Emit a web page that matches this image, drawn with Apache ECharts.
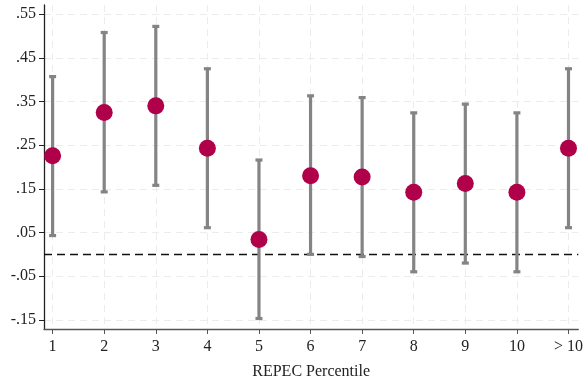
<!DOCTYPE html>
<html>
<head>
<meta charset="utf-8">
<script src="https://cdn.jsdelivr.net/npm/echarts@6/dist/echarts.min.js"></script>
<style>
  html, body { margin: 0; padding: 0; background: #fff; }
  #chart { width: 586px; height: 385px; }
</style>
</head>
<body>
<div id="chart"></div>
<script>
// Percentile bins on the horizontal axis
const categories = ['1', '2', '3', '4', '5', '6', '7', '8', '9', '10', '> 10'];
const positions = [1, 2, 3, 4, 5, 6, 7, 8, 9, 10, 11];
// Point estimates and confidence bounds per bin
const estimates = [0.226, 0.325, 0.340, 0.243, 0.034, 0.180, 0.177, 0.142, 0.162, 0.142, 0.243];
const upperCI  = [0.407, 0.508, 0.522, 0.425, 0.216, 0.363, 0.359, 0.324, 0.344, 0.324, 0.425];
const lowerCI  = [0.043, 0.143, 0.158, 0.061, -0.147, 0.000, -0.005, -0.040, -0.020, -0.040, 0.061];
// Vertical axis ticks and their labels
const yTicks = [-0.15, -0.05, 0.05, 0.15, 0.25, 0.35, 0.45, 0.55];
const yTickLabels = ['-.15', '-.05', '.05', '.15', '.25', '.35', '.45', '.55'];

const FONT = '"Liberation Serif", "DejaVu Serif", serif';

const chart = echarts.init(document.getElementById('chart'), null, { renderer: 'canvas' });

const ciData = positions.map((p, i) => [p, lowerCI[i], upperCI[i]]);
const pointData = positions.map((p, i) => [p, estimates[i]]);

chart.setOption({
  animation: false,
  backgroundColor: '#ffffff',
  grid: { left: 44, right: 7, top: 5, bottom: 56, containLabel: false },
  xAxis: {
    type: 'value',
    min: 0.833,
    max: 11.19,
    name: 'REPEC Percentile',
    nameLocation: 'middle',
    nameGap: 35,
    nameTextStyle: { fontFamily: FONT, fontSize: 16, color: '#222' },
    axisLine: { show: true, onZero: false, lineStyle: { color: '#555', width: 1.3 } },
    axisTick: { show: true, length: 5, customValues: positions, lineStyle: { color: '#555' } },
    axisLabel: {
      customValues: positions,
      fontFamily: FONT, fontSize: 16, color: '#222', margin: 10,
      formatter: v => categories[positions.indexOf(Math.round(v))] || ''
    },
    splitLine: { show: true, lineStyle: { color: '#ececec', type: [7, 5], width: 1 } }
  },
  yAxis: {
    type: 'value',
    min: -0.171,
    max: 0.571,
    axisLine: { show: true, onZero: false, lineStyle: { color: '#222', width: 1.3 } },
    axisTick: { show: true, length: 5, customValues: yTicks, lineStyle: { color: '#222' } },
    axisLabel: {
      customValues: yTicks,
      fontFamily: FONT, fontSize: 16, color: '#222', margin: 8,
      formatter: v => {
        const idx = yTicks.findIndex(t => Math.abs(t - v) < 1e-6);
        return idx >= 0 ? yTickLabels[idx] : '';
      }
    },
    splitLine: { show: true, lineStyle: { color: '#ececec', type: [7, 5], width: 1 } }
  },
  series: [
    {
      type: 'custom',
      name: 'CI',
      data: ciData,
      z: 3,
      renderItem: (params, api) => {
        const x = api.value(0);
        const lo = api.coord([x, api.value(1)]);
        const hi = api.coord([x, api.value(2)]);
        const half = 3.5;
        const style = { stroke: '#848484', lineWidth: 3.2 };
        return {
          type: 'group',
          children: [
            { type: 'line', shape: { x1: lo[0], y1: lo[1], x2: hi[0], y2: hi[1] }, style },
            { type: 'line', shape: { x1: hi[0] - half, y1: hi[1], x2: hi[0] + half, y2: hi[1] }, style },
            { type: 'line', shape: { x1: lo[0] - half, y1: lo[1], x2: lo[0] + half, y2: lo[1] }, style }
          ]
        };
      }
    },
    {
      type: 'scatter',
      name: 'Estimate',
      data: pointData,
      z: 4,
      symbol: 'circle',
      symbolSize: 17,
      itemStyle: { color: '#b0004a', opacity: 1 },
      markLine: {
        silent: true,
        symbol: ['none', 'none'],
        label: { show: false },
        lineStyle: { color: '#111', type: [8, 5], width: 1.3 },
        data: [{ yAxis: 0 }],
        z: 2
      }
    }
  ]
});
</script>
</body>
</html>
